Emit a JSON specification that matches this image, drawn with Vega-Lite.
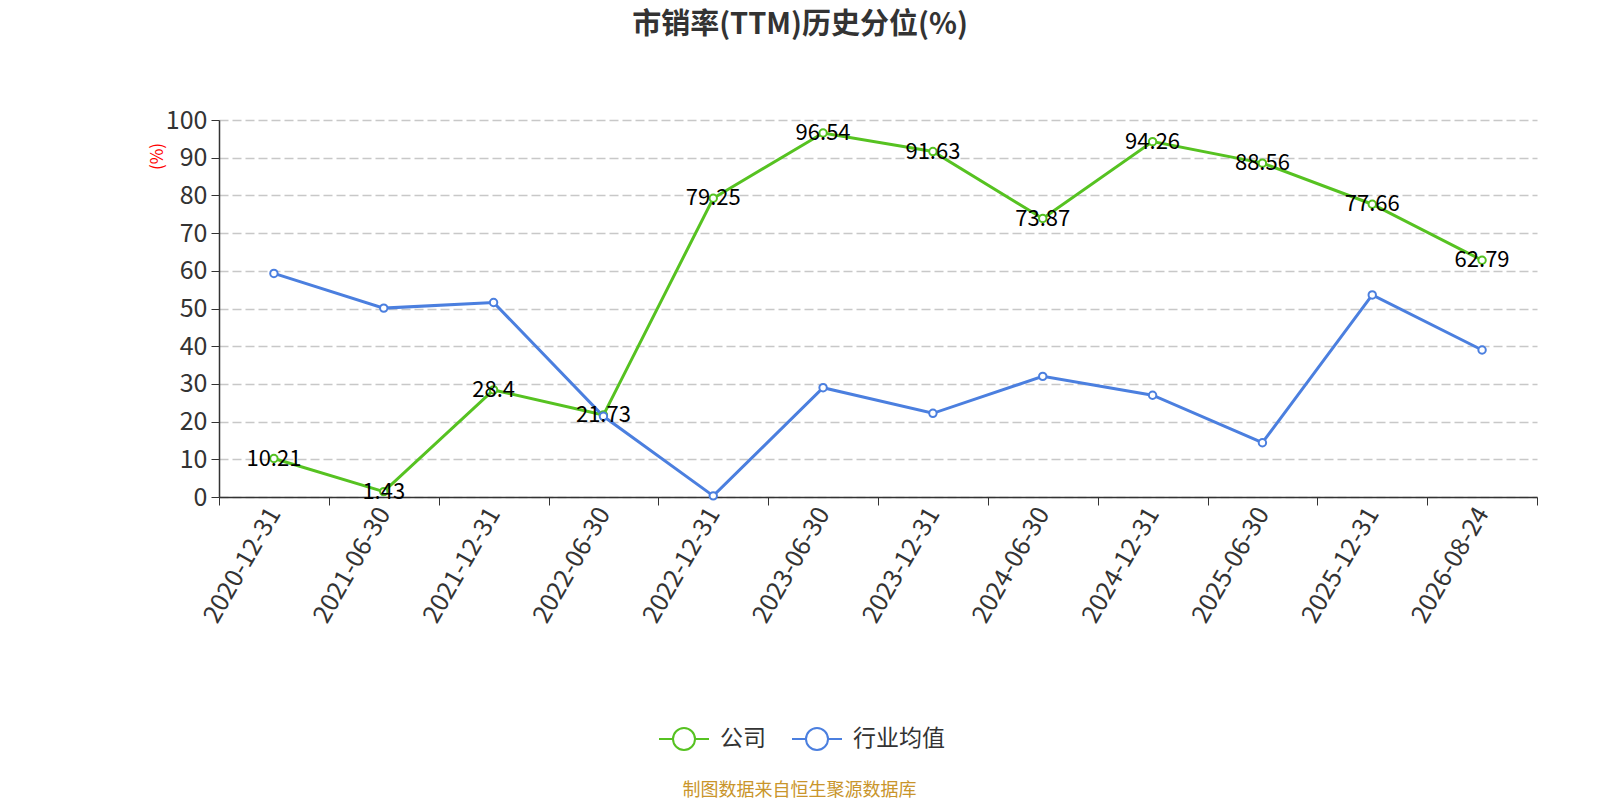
{
  "$schema": "https://vega.github.io/schema/vega-lite/v6.json",
  "description": "市销率(TTM)历史分位(%)",
  "width": 1318,
  "height": 377,
  "autosize": {"type": "none"},
  "padding": {"left": 219, "top": 120, "right": 63, "bottom": 303},
  "config": {
    "font": "Noto Sans CJK SC",
    "view": {"stroke": null}
  },
  "title": {
    "text": "市销率(TTM)历史分位(%)",
    "fontSize": 29,
    "fontWeight": "bold",
    "color": "#333333",
    "anchor": "middle",
    "dx": -78,
    "offset": 68
  },
  "data": {
    "values": [
      {"date": "2020-12-31", "series": "公司", "value": 10.21},
      {"date": "2021-06-30", "series": "公司", "value": 1.43},
      {"date": "2021-12-31", "series": "公司", "value": 28.4},
      {"date": "2022-06-30", "series": "公司", "value": 21.73},
      {"date": "2022-12-31", "series": "公司", "value": 79.25},
      {"date": "2023-06-30", "series": "公司", "value": 96.54},
      {"date": "2023-12-31", "series": "公司", "value": 91.63},
      {"date": "2024-06-30", "series": "公司", "value": 73.87},
      {"date": "2024-12-31", "series": "公司", "value": 94.26},
      {"date": "2025-06-30", "series": "公司", "value": 88.56},
      {"date": "2025-12-31", "series": "公司", "value": 77.66},
      {"date": "2026-08-24", "series": "公司", "value": 62.79},
      {"date": "2020-12-31", "series": "行业均值", "value": 59.3},
      {"date": "2021-06-30", "series": "行业均值", "value": 50.1},
      {"date": "2021-12-31", "series": "行业均值", "value": 51.6},
      {"date": "2022-06-30", "series": "行业均值", "value": 21.4},
      {"date": "2022-12-31", "series": "行业均值", "value": 0.3},
      {"date": "2023-06-30", "series": "行业均值", "value": 29.0},
      {"date": "2023-12-31", "series": "行业均值", "value": 22.2},
      {"date": "2024-06-30", "series": "行业均值", "value": 32.0},
      {"date": "2024-12-31", "series": "行业均值", "value": 27.0},
      {"date": "2025-06-30", "series": "行业均值", "value": 14.4},
      {"date": "2025-12-31", "series": "行业均值", "value": 53.6},
      {"date": "2026-08-24", "series": "行业均值", "value": 39.0}
    ]
  },
  "encoding": {
    "x": {
      "field": "date",
      "type": "ordinal",
      "sort": null,
      "bandPosition": 0.5,
      "scale": {"type": "band", "paddingInner": 0, "paddingOuter": 0},
      "axis": {
        "labelAngle": -60,
        "labelAlign": "right",
        "labelBaseline": "middle",
        "labelFontSize": 25,
        "labelColor": "#333333",
        "labelPadding": 4,
        "tickBand": "extent",
        "tickSize": 8,
        "tickColor": "#333333",
        "domainColor": "#333333",
        "domainWidth": 1.5,
        "grid": false,
        "title": "制图数据来自恒生聚源数据库",
        "titleColor": "#c9952b",
        "titleFontSize": 18,
        "titleFontWeight": "normal",
        "titleX": 580,
        "titleY": 293,
        "titleAlign": "center",
        "titleBaseline": "middle"
      }
    },
    "y": {
      "field": "value",
      "type": "quantitative",
      "scale": {"domain": [0, 100]},
      "axis": {
        "values": [0, 10, 20, 30, 40, 50, 60, 70, 80, 90, 100],
        "title": "(%)",
        "titleColor": "#ff0000",
        "titleFontSize": 17,
        "titleFontWeight": "normal",
        "titleX": -62,
        "titleY": 36,
        "titleAngle": -90,
        "titleAlign": "center",
        "titleBaseline": "middle",
        "grid": true,
        "gridDash": [9, 4],
        "gridColor": "#c8c8c8",
        "gridWidth": 1.5,
        "labelFontSize": 25,
        "labelColor": "#333333",
        "labelPadding": 4,
        "tickSize": 8,
        "tickColor": "#333333",
        "domainColor": "#333333",
        "domainWidth": 1.5
      }
    },
    "color": {
      "field": "series",
      "type": "nominal",
      "scale": {"domain": ["公司", "行业均值"], "range": ["#56c221", "#4b7fdf"]},
      "legend": {
        "orient": "none",
        "legendX": 439,
        "legendY": 593,
        "direction": "horizontal",
        "title": null,
        "symbolType": "M-1,0L-0.44,0M0.44,0L1,0M-0.44,0A0.44,0.44,0,1,0,0.44,0A0.44,0.44,0,1,0,-0.44,0Z",
        "symbolSize": 2500,
        "symbolStrokeWidth": 2,
        "symbolFillColor": "white",
        "labelFontSize": 23,
        "labelColor": "#333333",
        "labelOffset": 10,
        "columnPadding": 22
      }
    }
  },
  "layer": [
    {
      "mark": {
        "type": "line",
        "strokeWidth": 3,
        "point": {"filled": false, "fill": "white", "size": 55, "strokeWidth": 2}
      }
    },
    {
      "transform": [{"filter": "datum.series === '公司'"}],
      "mark": {"type": "text", "fontSize": 22, "baseline": "middle", "align": "center"},
      "encoding": {
        "text": {"field": "value", "type": "nominal"},
        "color": {"value": "black"}
      }
    }
  ]
}
